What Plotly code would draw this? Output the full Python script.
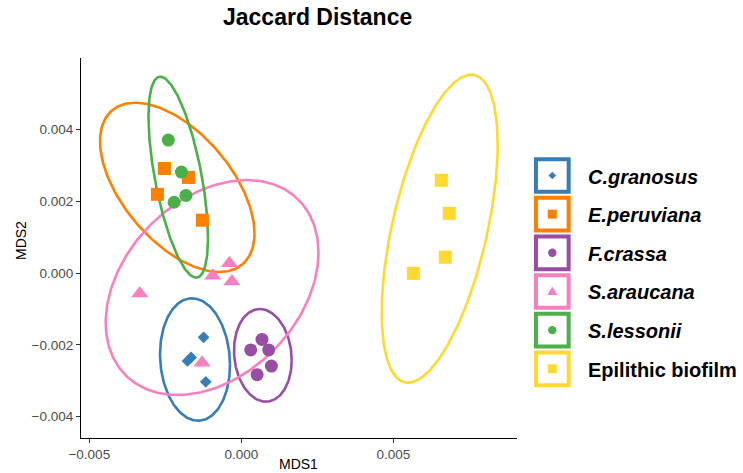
import numpy as np
import plotly.graph_objects as go

# ---- data: NMDS site scores (MDS1, MDS2) per group ----
groups = ["C.granosus", "E.peruviana", "F.crassa", "S.araucana", "S.lessonii", "Epilithic biofilm"]
colors = ["#377EB8", "#FF7F00", "#984EA3", "#F781BF", "#4DAF4A", "#FFD92F"]
symbols = ["diamond", "square", "circle", "triangle-up", "circle", "square"]

c_granosus_x = [-0.00124, -0.00177, -0.00165, -0.00117]
c_granosus_y = [-0.00179, -0.00245, -0.00235, -0.00303]
e_peruviana_x = [-0.00253, -0.00174, -0.00276, -0.00128]
e_peruviana_y = [0.00291, 0.00266, 0.00219, 0.00147]
f_crassa_x = [0.00068, 0.00031, 0.00090, 0.00099, 0.00052]
f_crassa_y = [-0.00185, -0.00214, -0.00214, -0.00259, -0.00283]
s_araucana_x = [-0.00039, -0.00094, -0.00031, -0.00334, -0.00129]
s_araucana_y = [0.00027, -0.00008, -0.00024, -0.00057, -0.00250]
s_lessonii_x = [-0.00240, -0.00197, -0.00182, -0.00221]
s_lessonii_y = [0.00370, 0.00281, 0.00216, 0.00197]
biofilm_x = [0.00658, 0.00684, 0.00671, 0.00566]
biofilm_y = [0.00258, 0.00166, 0.00044, -0.00001]

# 95% ellipses: centre, half-extent along MDS1 / MDS2, phase (deg) of the MDS2 maximum
ell_cx = [-0.001523, -0.002107, 0.000709, -0.000961, -0.002074, 0.006526]
ell_cy = [-0.002408, 0.002384, -0.002292, -0.000404, 0.002667, 0.001233]
ell_rx = [0.001151, 0.002541, 0.000949, 0.003500, 0.000979, 0.001908]
ell_ry = [0.001704, 0.002356, 0.001290, 0.002992, 0.002797, 0.004287]
ell_phase = [95, 123, 96, 71, 127, 57]

xs = [c_granosus_x, e_peruviana_x, f_crassa_x, s_araucana_x, s_lessonii_x, biofilm_x]
ys = [c_granosus_y, e_peruviana_y, f_crassa_y, s_araucana_y, s_lessonii_y, biofilm_y]

x_ticks = [-0.005, 0.0, 0.005]
y_ticks = [-0.004, -0.002, 0.0, 0.002, 0.004]

marker_sizes = {"diamond": 9, "square": 13, "circle": 13, "triangle-up": 15}

W, H = 743, 473
L, R, T, B = 81, 517, 58, 438
FONT = "Liberation Sans, Arial, sans-serif"


def px_x(p):
    return (p - L) / (R - L)


def px_y(p):
    return (B - p) / (B - T)


def glyph_shape(symbol, cx, cy, color):
    """Small legend glyph centred at pixel (cx, cy), expressed in paper units."""
    base = dict(xref="paper", yref="paper", fillcolor=color, line=dict(width=0), layer="above")
    if symbol == "circle":
        r = 4.2
        return dict(type="circle", x0=px_x(cx - r), x1=px_x(cx + r),
                    y0=px_y(cy + r), y1=px_y(cy - r), **base)
    if symbol == "square":
        r = 4.5
        return dict(type="rect", x0=px_x(cx - r), x1=px_x(cx + r),
                    y0=px_y(cy + r), y1=px_y(cy - r), **base)
    if symbol == "diamond":
        r = 3.8
        pts = [(cx, cy - r), (cx + r, cy), (cx, cy + r), (cx - r, cy)]
    else:  # triangle-up
        pts = [(cx, cy - 5.0), (cx + 5.0, cy + 3.6), (cx - 5.0, cy + 3.6)]
    path = "M " + " L ".join(f"{px_x(a):.5f},{px_y(b):.5f}" for a, b in pts) + " Z"
    return dict(type="path", path=path, **base)


fig = go.Figure()

t = np.linspace(0, 2 * np.pi, 241)
for i, g in enumerate(groups):
    ex = ell_cx[i] + ell_rx[i] * np.cos(t)
    ey = ell_cy[i] + ell_ry[i] * np.cos(t - np.radians(ell_phase[i]))
    fig.add_trace(go.Scatter(x=ex, y=ey, mode="lines", line=dict(color=colors[i], width=2.6),
                             hoverinfo="skip", showlegend=False))

for i, g in enumerate(groups):
    fig.add_trace(go.Scatter(x=xs[i], y=ys[i], mode="markers", name=g, showlegend=False,
                             marker=dict(symbol=symbols[i], color=colors[i],
                                         size=marker_sizes[symbols[i]], line=dict(width=0))))

# legend keys: framed boxes with the group glyph
key_cx, key_cy0, key_step, key_box = 552.3, 175.5, 38.66, 36.7
shapes, annotations = [], []
for i, g in enumerate(groups):
    cy = key_cy0 + i * key_step
    half = (key_box - 4) / 2
    shapes.append(dict(type="rect", xref="paper", yref="paper",
                       x0=px_x(key_cx - half), x1=px_x(key_cx + half),
                       y0=px_y(cy + half), y1=px_y(cy - half),
                       line=dict(color=colors[i], width=4), fillcolor="rgba(0,0,0,0)", layer="above"))
    shapes.append(glyph_shape(symbols[i], key_cx, cy, colors[i]))
    label = f"<b><i>{g}</i></b>" if i < 5 else f"<b>{g}</b>"
    annotations.append(dict(text=label, xref="paper", yref="paper", x=px_x(586), y=px_y(cy + 1),
                            xanchor="left", yanchor="middle", showarrow=False,
                            font=dict(size=20, color="black", family=FONT)))

annotations.append(dict(text="<b>Jaccard Distance</b>", xref="paper", yref="paper",
                        x=px_x(317), y=px_y(17), xanchor="center", yanchor="middle",
                        showarrow=False, font=dict(size=23, color="black", family=FONT)))
annotations.append(dict(text="MDS1", xref="paper", yref="paper", x=px_x(298.7), y=px_y(464),
                        xanchor="center", yanchor="middle", showarrow=False,
                        font=dict(size=14, color="black", family=FONT)))
annotations.append(dict(text="MDS2", xref="paper", yref="paper", x=px_x(21), y=px_y(241),
                        xanchor="center", yanchor="middle", showarrow=False, textangle=-90,
                        font=dict(size=14, color="black", family=FONT)))

axis_common = dict(showgrid=False, zeroline=False, showline=True, linecolor="black", linewidth=1.1,
                   ticks="outside", ticklen=4, tickwidth=1.1, tickcolor="#333333",
                   tickfont=dict(size=13.5, color="#4D4D4D", family=FONT), tickformat=".3f")

fig.update_layout(
    width=W, height=H,
    margin=dict(l=L, r=W - R, t=T, b=H - B),
    paper_bgcolor="white", plot_bgcolor="white",
    showlegend=False,
    xaxis=dict(range=[(L - 241.3) / 30400, (R - 241.3) / 30400], tickvals=x_ticks, **axis_common),
    yaxis=dict(range=[(273 - B) / 35925, (273 - T) / 35925], tickvals=y_ticks, **axis_common),
    shapes=shapes,
    annotations=annotations,
    font=dict(family=FONT),
)

fig.write_html("out.html")
